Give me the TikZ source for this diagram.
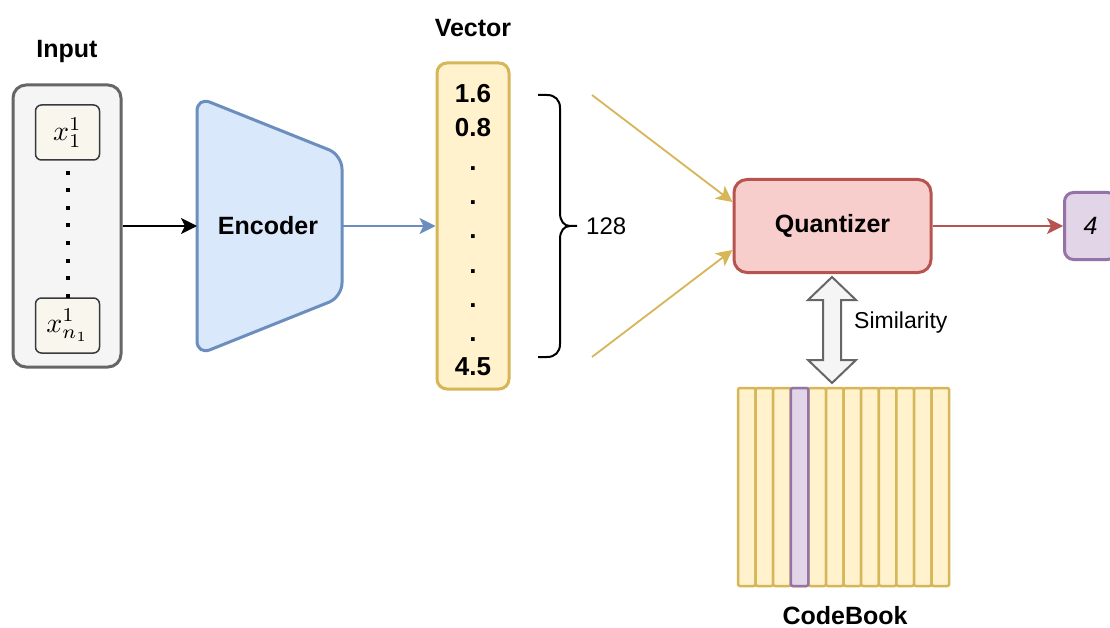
\documentclass[tikz,border=0pt]{standalone}
\usepackage{graphicx}
\usepackage{fontspec}
\setmainfont{Liberation Sans}
\usetikzlibrary{arrows.meta,calc}
\definecolor{grayS}{HTML}{666666}
\definecolor{grayF}{HTML}{F5F5F5}
\definecolor{xS}{HTML}{36393D}
\definecolor{xF}{HTML}{F9F7ED}
\definecolor{blueS}{HTML}{6C8EBF}
\definecolor{blueF}{HTML}{DAE8FC}
\definecolor{yelS}{HTML}{D6B656}
\definecolor{yelF}{HTML}{FFF2CC}
\definecolor{redS}{HTML}{B85450}
\definecolor{redF}{HTML}{F8CECC}
\definecolor{purS}{HTML}{9673A6}
\definecolor{purF}{HTML}{E1D5E7}
\tikzset{
  title/.style={font=\bfseries\fontsize{25}{30}\selectfont, inner sep=0},
  inbox/.style={draw=grayS, fill=grayF, line width=3, rounded corners=13, inner sep=0},
  xbox/.style={draw=xS, fill=xF, line width=1.5, rounded corners=6, inner sep=0, minimum width=64, minimum height=55},
  vecbox/.style={draw=yelS, fill=yelF, line width=3, rounded corners=10, inner sep=0},
  vecnum/.style={font=\bfseries\fontsize{26}{30}\selectfont, inner sep=0, anchor=base},
  qbox/.style={draw=redS, fill=redF, line width=3, rounded corners=13, inner sep=0, font=\bfseries\fontsize{25}{30}\selectfont},
  fourbox/.style={draw=purS, fill=purF, line width=3, rounded corners=9, inner sep=0, font=\itshape\fontsize{25}{30}\selectfont},
  conn/.style={line width=1.8, -{Stealth[length=16, width=16, inset=4]}},
  plain/.style={font=\fontsize{24}{28}\selectfont, inner sep=0},
  cbcell/.style={draw=yelS, fill=yelF, line width=2.5, rounded corners=2},
  cbsel/.style={draw=purS, fill=purF, line width=2.5, rounded corners=2},
}
\begin{document}
\begin{tikzpicture}[x=1pt,y=-1pt]
\clip (0,0) rectangle (1110,628);
\fill[white] (0,0) rectangle (1110,628);

% Input
\node[title] (tin) at (67,51) {Input};
\node[inbox, minimum width=108, minimum height=282] (inp) at (67,226) {};
\node[xbox] (x1) at (67.5,132.5) {\scalebox{2.8}{$x_1^1$}};
\node[xbox] (xn) at (67.5,325.5) {\scalebox{2.8}{$x_{n_1}^1$}};
\foreach \i in {0,...,7} \fill (65.5,171+17.5*\i) rectangle ++(4,4);

% Encoder
\draw[draw=blueS, fill=blueF, line width=3, rounded corners=14]
  (197,226) -- (197,97) -- (342,155) -- (342,297) -- (197,355) -- cycle;
\node[font=\bfseries\fontsize{25}{30}\selectfont, inner sep=0] (enc) at (268,226) {Encoder};
\coordinate (encL) at (197,226);
\coordinate (encR) at (342,226);
\draw[conn, black] (inp.east) -- (encL);

% Vector
\node[title] (tvec) at (473,28) {Vector};
\node[vecbox, minimum width=72, minimum height=326] (vec) at (473,226) {};
\node[vecnum] (v1) at (473,103) {1.6};
\node[vecnum] (v2) at (473,137) {0.8};
\foreach \k in {2,...,7} \node[vecnum] at (473,103+34*\k) {.};
\node[vecnum] (v9) at (473,375) {4.5};
\draw[conn, blueS] (encR) -- (vec.west);

% Brace
\draw[line width=2, black]
  (538,95) -- (547,95) .. controls (555,95) and (560,100) .. (560,108) -- (560,213)
  .. controls (560,221) and (564,226) .. (570,226) -- (577,226);
\draw[line width=2, black]
  (570,226) .. controls (564,226) and (560,231) .. (560,239) -- (560,344)
  .. controls (560,352) and (555,357) .. (547,357) -- (538,357);
\node[plain, anchor=west] (n128) at (586,226) {128};

% Quantizer
\node[qbox, minimum width=197, minimum height=93] (q) at (832.5,226) {Quantizer};
\coordinate (ya) at (592,95);
\coordinate (yb) at (592,357);
\draw[conn, yelS] (ya) -- ($(q.west)+(0,-24)$);
\draw[conn, yelS] (yb) -- ($(q.west)+(0,24)$);

% Output 4
\node[fourbox, minimum width=52, minimum height=67, anchor=west] (four) at (1063,226) {4};
\draw[conn, redS] (q.east) -- (four.west);

% Similarity double arrow
\draw[draw=grayS, fill=grayF, line width=2, line join=miter]
  (832,277) -- (856,300) -- (841,300) -- (841,360) -- (856,360) -- (832,383)
  -- (808,360) -- (823,360) -- (823,300) -- (808,300) -- cycle;
\node[plain, anchor=west, font=\fontsize{23}{28}\selectfont] (sim) at (854,323) {Similarity};

% CodeBook
\foreach \i in {0,...,11} \draw[cbcell] (738+17.6*\i,388) rectangle ++(17.6,198);
\draw[cbsel] (790.8,388) rectangle ++(17.6,198);
\node[title] (tcb) at (845,616) {CodeBook};
\end{tikzpicture}
\end{document}
